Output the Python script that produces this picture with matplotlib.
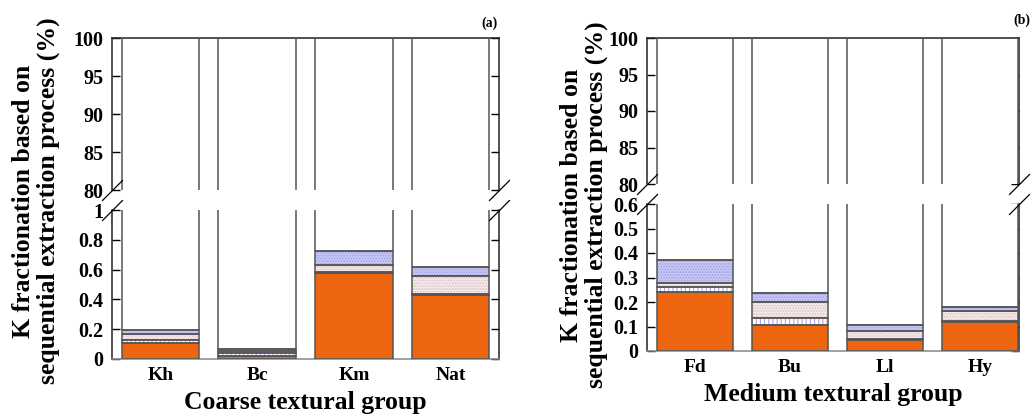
import matplotlib
matplotlib.use("Agg")
import matplotlib.pyplot as plt
import numpy as np

plt.rcParams['font.family'] = ['Liberation Serif', 'DejaVu Serif']
plt.rcParams['font.weight'] = 'bold'
plt.rcParams['hatch.linewidth'] = 0.8

# ---- data (K fractions, % of total K) ----
coarse_groups = ['Kh', 'Bc', 'Km', 'Nat']
coarse_f1 = [0.110, 0.022, 0.578, 0.432]   # solid orange
coarse_f2 = [0.015, 0.015, 0.004, 0.002]   # vertical hatch
coarse_f3 = [0.045, 0.016, 0.047, 0.121]   # pink dotted
coarse_f4 = [0.022, 0.014, 0.098, 0.065]   # blue dotted

medium_groups = ['Fd', 'Bu', 'Ll', 'Hy']
medium_f1 = [0.239, 0.106, 0.046, 0.117]
medium_f2 = [0.021, 0.030, 0.004, 0.007]
medium_f3 = [0.019, 0.063, 0.032, 0.041]
medium_f4 = [0.092, 0.039, 0.024, 0.016]

upper_ticks = [80, 85, 90, 95, 100]
coarse_lower_ticks = [0, 0.2, 0.4, 0.6, 0.8, 1.0]
medium_lower_ticks = [0, 0.1, 0.2, 0.3, 0.4, 0.5, 0.6]

# ---- styles ----
EDGE = '#555555'
layer_styles = [
    dict(face='#ee6510', hatch=None, hcol=None),
    dict(face='#ffffff', hatch='||||', hcol='#b3a3ee'),
    dict(face='#f4e8e8', hatch='......', hcol='#dcc6c6'),
    dict(face='#c8c8f6', hatch='......', hcol='#a0a0e4'),
    dict(face='#ffffff', hatch=None, hcol=None),
]

W, H = 1034, 418
fig = plt.figure(figsize=(W / 100, H / 100), dpi=100)


def px_axes(x0, x1, ytop, ybot):
    return fig.add_axes([x0 / W, 1 - ybot / H, (x1 - x0) / W, (ybot - ytop) / H])


def draw_stack(ax, groups, layers):
    x = np.arange(len(groups))
    bottom = np.zeros(len(groups))
    for vals, st in zip(layers, layer_styles):
        vals = np.asarray(vals, dtype=float)
        if st['hatch']:
            ax.bar(x, vals, 0.8, bottom=bottom, color=st['face'],
                   edgecolor=st['hcol'], linewidth=0, hatch=st['hatch'], zorder=2)
        else:
            ax.bar(x, vals, 0.8, bottom=bottom, color=st['face'],
                   linewidth=0, zorder=2)
        ax.bar(x, vals, 0.8, bottom=bottom, fill=False,
               edgecolor=EDGE, linewidth=1.1, zorder=3)
        bottom = bottom + vals


def style_axis(ax, xlim):
    ax.set_xlim(*xlim)
    for s in ('left', 'right', 'top', 'bottom'):
        ax.spines[s].set_color('#222222')
        ax.spines[s].set_linewidth(1.1)
    ax.tick_params(axis='y', direction='in', length=6, width=1.0,
                   left=True, right=True, labelleft=True, labelsize=14.5, pad=6)


def make_panel(x0, x1, up_top, up_bot, lo_top, lo_bot, groups, f1, f2, f3, f4,
               lower_ticks, xlim, xlabel, tag, ylab_x, ylab_y, xlab_y, tag_xy):
    total = np.array(f1) + np.array(f2) + np.array(f3) + np.array(f4)
    rest = 100 - total
    layers = [f1, f2, f3, f4, rest]

    ax_up = px_axes(x0, x1, up_top, up_bot)
    ax_lo = px_axes(x0, x1, lo_top, lo_bot)
    for ax in (ax_up, ax_lo):
        draw_stack(ax, groups, layers)
        style_axis(ax, xlim)

    ax_up.set_ylim(80, 100)
    ax_up.set_yticks(upper_ticks)
    ax_up.set_yticklabels([f'{t:g}' for t in upper_ticks], fontweight='bold')
    ax_up.spines['bottom'].set_visible(False)
    ax_up.set_xticks([])

    ax_lo.set_ylim(0, lower_ticks[-1])
    ax_lo.set_yticks(lower_ticks)
    ax_lo.set_yticklabels([f'{t:g}' for t in lower_ticks], fontweight='bold')
    ax_lo.spines['top'].set_visible(False)
    ax_lo.spines['bottom'].set_color('#888888')
    ax_lo.set_xticks(np.arange(len(groups)))
    ax_lo.set_xticklabels(groups, fontsize=14, fontweight='bold')
    ax_lo.tick_params(axis='x', length=0, pad=6)

    # break marks on both sides of the gap
    kw = dict(marker=[(-1, -1), (1, 1)], markersize=15, linestyle='none',
              color='k', mec='k', mew=0.9, clip_on=False, zorder=5)
    ax_up.plot([0, 1], [0, 0], transform=ax_up.transAxes, **kw)
    ax_lo.plot([0, 1], [1, 1], transform=ax_lo.transAxes, **kw)

    fig.text(ylab_x / W, 1 - ylab_y / H,
             'K fractionation based on\nsequential extraction process (%)',
             rotation=90, ha='center', va='center', multialignment='center',
             fontsize=18.5, fontweight='bold', linespacing=1.1)
    fig.text((x0 + x1) / 2 / W, 1 - xlab_y / H, xlabel, ha='center', va='center',
             fontsize=18.5, fontweight='bold')
    fig.text(tag_xy[0] / W, 1 - tag_xy[1] / H, tag, ha='right', va='center',
             fontsize=10, fontweight='bold')


make_panel(112, 499, 38, 190, 210, 359, coarse_groups,
           coarse_f1, coarse_f2, coarse_f3, coarse_f4,
           coarse_lower_ticks, (-0.5, 3.5), 'Coarse textural group', '(a)',
           36, 201, 403, (498, 23))

make_panel(647, 1019, 38, 184, 204, 351, medium_groups,
           medium_f1, medium_f2, medium_f3, medium_f4,
           medium_lower_ticks, (-0.5, 3.41), 'Medium textural group', '(b)',
           584, 205, 395, (1030, 20))

fig.savefig('out.png', dpi=100, facecolor='white')
